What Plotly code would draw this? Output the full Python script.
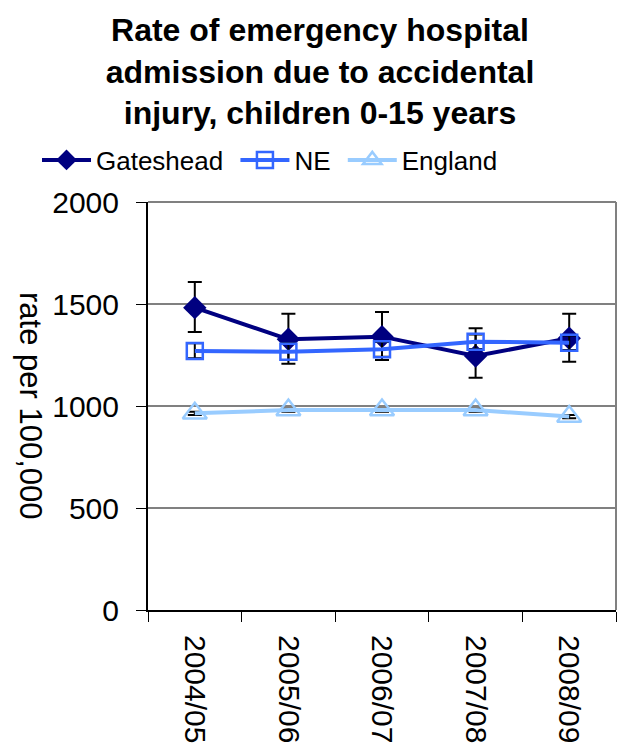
import plotly.graph_objects as go

years = ["2004/05", "2005/06", "2006/07", "2007/08", "2008/09"]

gateshead = [1482, 1327, 1340, 1245, 1332]
gateshead_lo = [1363, 1207, 1225, 1139, 1217]
gateshead_hi = [1608, 1452, 1461, 1381, 1452]

ne = [1270, 1266, 1278, 1315, 1310]
ne_lo = [1234, 1225, 1242, 1279, 1274]
ne_hi = [1307, 1307, 1314, 1351, 1346]

england = [964, 980, 980, 980, 948]
england_lo = [956, 972, 972, 972, 940]
england_hi = [972, 988, 988, 988, 956]

series_names = ["Gateshead", "NE", "England"]

FONT = "Liberation Sans, Arial, sans-serif"
PAD = "\u00a0"


def err(vals, lo, hi):
    return dict(
        type="data",
        symmetric=False,
        array=[h - v for v, h in zip(vals, hi)],
        arrayminus=[v - l for v, l in zip(vals, lo)],
        color="black",
        thickness=2,
        width=7,
    )


fig = go.Figure()
fig.add_trace(go.Scatter(
    x=years, y=gateshead, name=series_names[0] + PAD, mode="lines+markers",
    line=dict(color="#000080", width=4),
    marker=dict(symbol="diamond", size=18, color="#000080"),
    error_y=err(gateshead, gateshead_lo, gateshead_hi),
))
fig.add_trace(go.Scatter(
    x=years, y=ne, name=series_names[1] + PAD, mode="lines+markers",
    line=dict(color="#3366FF", width=4),
    marker=dict(symbol="square-open", size=16, color="#3366FF", line=dict(width=2.5)),
    error_y=err(ne, ne_lo, ne_hi),
))
fig.add_trace(go.Scatter(
    x=years, y=england, name=series_names[2], mode="lines+markers",
    line=dict(color="#99CCFF", width=4),
    marker=dict(symbol="triangle-up-open", size=21, color="#99CCFF", line=dict(width=2.5)),
    error_y=err(england, england_lo, england_hi),
))

fig.update_layout(
    width=617, height=750,
    margin=dict(l=148, r=1, t=202, b=140, autoexpand=False),
    paper_bgcolor="white", plot_bgcolor="white",
    font=dict(family=FONT, color="black"),
    title=dict(
        text="<b>Rate of emergency hospital<br>admission due to accidental<br>injury, children 0-15 years</b>",
        font=dict(family=FONT, size=32, color="black"),
        x=320 / 617, xanchor="center", xref="container",
        y=1 - 41 / 750, yanchor="top", yref="container",
        automargin=False,
    ),
    showlegend=True,
    legend=dict(
        orientation="h",
        xref="container", yref="container",
        x=270 / 617, xanchor="center",
        y=1 - 160 / 750, yanchor="middle",
        font=dict(family=FONT, size=26, color="black"),
        itemwidth=49,
        bgcolor="rgba(0,0,0,0)",
    ),
    xaxis=dict(
        type="category",
        range=[-0.5, 4.5],
        tickson="boundaries",
        ticks="outside", ticklen=10, tickcolor="black",
        showline=True, linecolor="black", linewidth=2,
        showgrid=False,
        tickangle=90,
        tickfont=dict(family=FONT, size=30, color="black"),
        ticklabelstandoff=17,
        automargin=False,
    ),
    yaxis=dict(
        range=[0, 2000],
        tickvals=[0, 500, 1000, 1500, 2000],
        ticks="outside", ticklen=10, tickcolor="black",
        showline=True, linecolor="black", linewidth=2,
        showgrid=True, gridcolor="#808080", gridwidth=2,
        zeroline=False,
        tickfont=dict(family=FONT, size=30, color="black"),
        ticklabelstandoff=11,
        automargin=False,
    ),
    annotations=[dict(
        text="rate per 100,000",
        textangle=90,
        xref="paper", yref="paper",
        x=(31 - 148) / 468, y=0.50,
        xanchor="center", yanchor="middle",
        showarrow=False,
        font=dict(family=FONT, size=31, color="black"),
    )],
    shapes=[
        dict(type="line", xref="paper", yref="paper",
             x0=1, x1=1, y0=0, y1=1,
             line=dict(color="#808080", width=2)),
        dict(type="line", xref="paper", yref="paper",
             x0=0, x1=1, y0=1, y1=1,
             line=dict(color="#808080", width=2)),
    ],
)

fig.write_html(
    "out.html",
    config={"displayModeBar": False},
    post_script="document.body.style.margin='0';document.body.style.overflow='hidden';",
)
